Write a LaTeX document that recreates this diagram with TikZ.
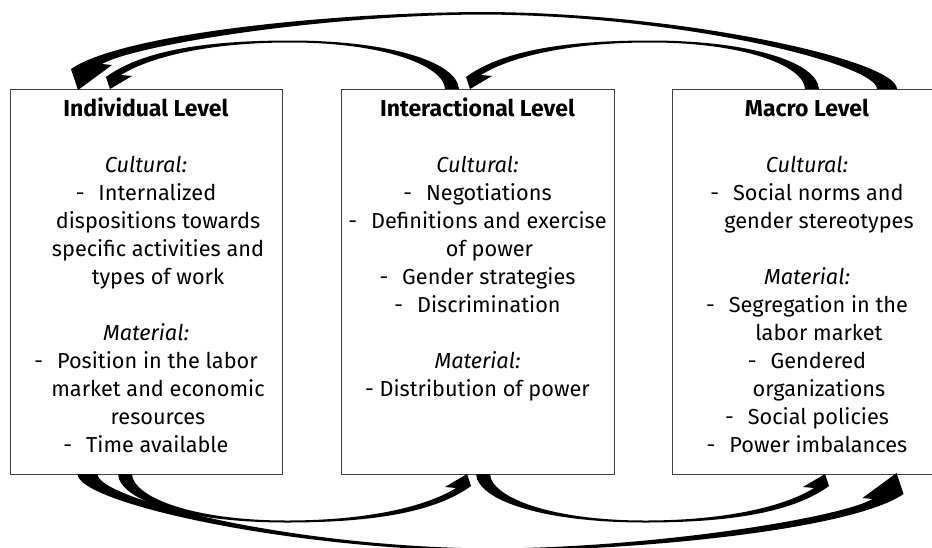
\documentclass[tikz,border=0pt]{standalone}
\usepackage{fontspec}
\setmainfont{Fira Sans}
\newcommand\dsh{-\hspace{14pt}}
\newcommand\cont{\hspace*{24pt}}
\newcommand\ttl[1]{{\fontsize{23}{28}\selectfont\textbf{#1}}}
\newcommand\bigarc{%
  \fill[arrowfill] (897,89) .. controls (897,60) and (680,12) .. (480,12)
    .. controls (320,13) and (120,35) .. (71,69)
    -- (78,90) -- (112,65) -- (102,64)
    .. controls (135,45) and (320,15.5) .. (480,14.5)
    .. controls (680,15) and (877,64) .. (877,89) -- cycle;}
\newcommand\smallarc{%
  \fill[arrowfill] (459,89) .. controls (457,62) and (390,40.5) .. (290,40.5)
    .. controls (200,40.5) and (140,52) .. (106,77)
    -- (110,89) -- (132,76) -- (121,75)
    .. controls (148,58) and (205,42.5) .. (290,42.5)
    .. controls (385,42.5) and (444,66) .. (445,89) -- cycle;}
\begin{document}
\begin{tikzpicture}[x=1pt,y=-1pt,
  lvlbox/.style={draw=black!75, line width=0.9pt, inner sep=0pt, anchor=north west},
  lvltext/.style={anchor=north, align=center, inner sep=0pt, font=\fontsize{21.7}{28}\selectfont},
  arrowfill/.style={fill=black}]
\useasboundingbox (0,0) rectangle (932,547);
\clip (0,0) rectangle (932,547);
\fill[white] (0,0) rectangle (932,547);

% boxes
\node[lvlbox, minimum width=272pt, minimum height=385pt] (ind) at (10,89) {};
\node[lvlbox, minimum width=273pt, minimum height=385pt] (int) at (341,89) {};
\node[lvlbox, minimum width=280pt, minimum height=385pt] (mac) at (672,89) {};

% texts
\node[lvltext] (indtxt) at (146,96) {\rule{0pt}{20pt}\ttl{Individual Level}\\[28pt]
\textit{Cultural:}\\
\dsh Internalized\\
\cont dispositions towards\\
\cont specific activities and\\
\cont types of work\\[28pt]
\textit{Material:}\\
\dsh Position in the labor\\
\cont market and economic\\
\cont resources\\
\dsh Time available};

\node[lvltext] (inttxt) at (477.5,96) {\rule{0pt}{20pt}\ttl{Interactional Level}\\[28pt]
\textit{Cultural:}\\
\dsh Negotiations\\
\dsh Definitions and exercise\\
\cont of power\\
\dsh Gender strategies\\
\dsh Discrimination\\[28pt]
\textit{Material:}\\
- Distribution of power};

\node[lvltext] (mactxt) at (807,96) {\rule{0pt}{20pt}\ttl{Macro Level}\\[28pt]
\textit{Cultural:}\\
\dsh Social norms and\\
\cont gender stereotypes\\[28pt]
\textit{Material:}\\
\dsh Segregation in the\\
\cont labor market\\
\dsh Gendered\\
\cont organizations\\
\dsh Social policies\\
\dsh Power imbalances};

% tapered curved arrows
\bigarc
\smallarc
\begin{scope}[xshift=360pt]\smallarc\end{scope}
\begin{scope}[rotate around={180:(288.5,281.5)}]\smallarc\end{scope}
\begin{scope}[xshift=358pt, rotate around={180:(288.5,281.5)}]\smallarc\end{scope}
\begin{scope}[rotate around={180:(487.25,281.5)}]\bigarc\end{scope}
\end{tikzpicture}
\end{document}
